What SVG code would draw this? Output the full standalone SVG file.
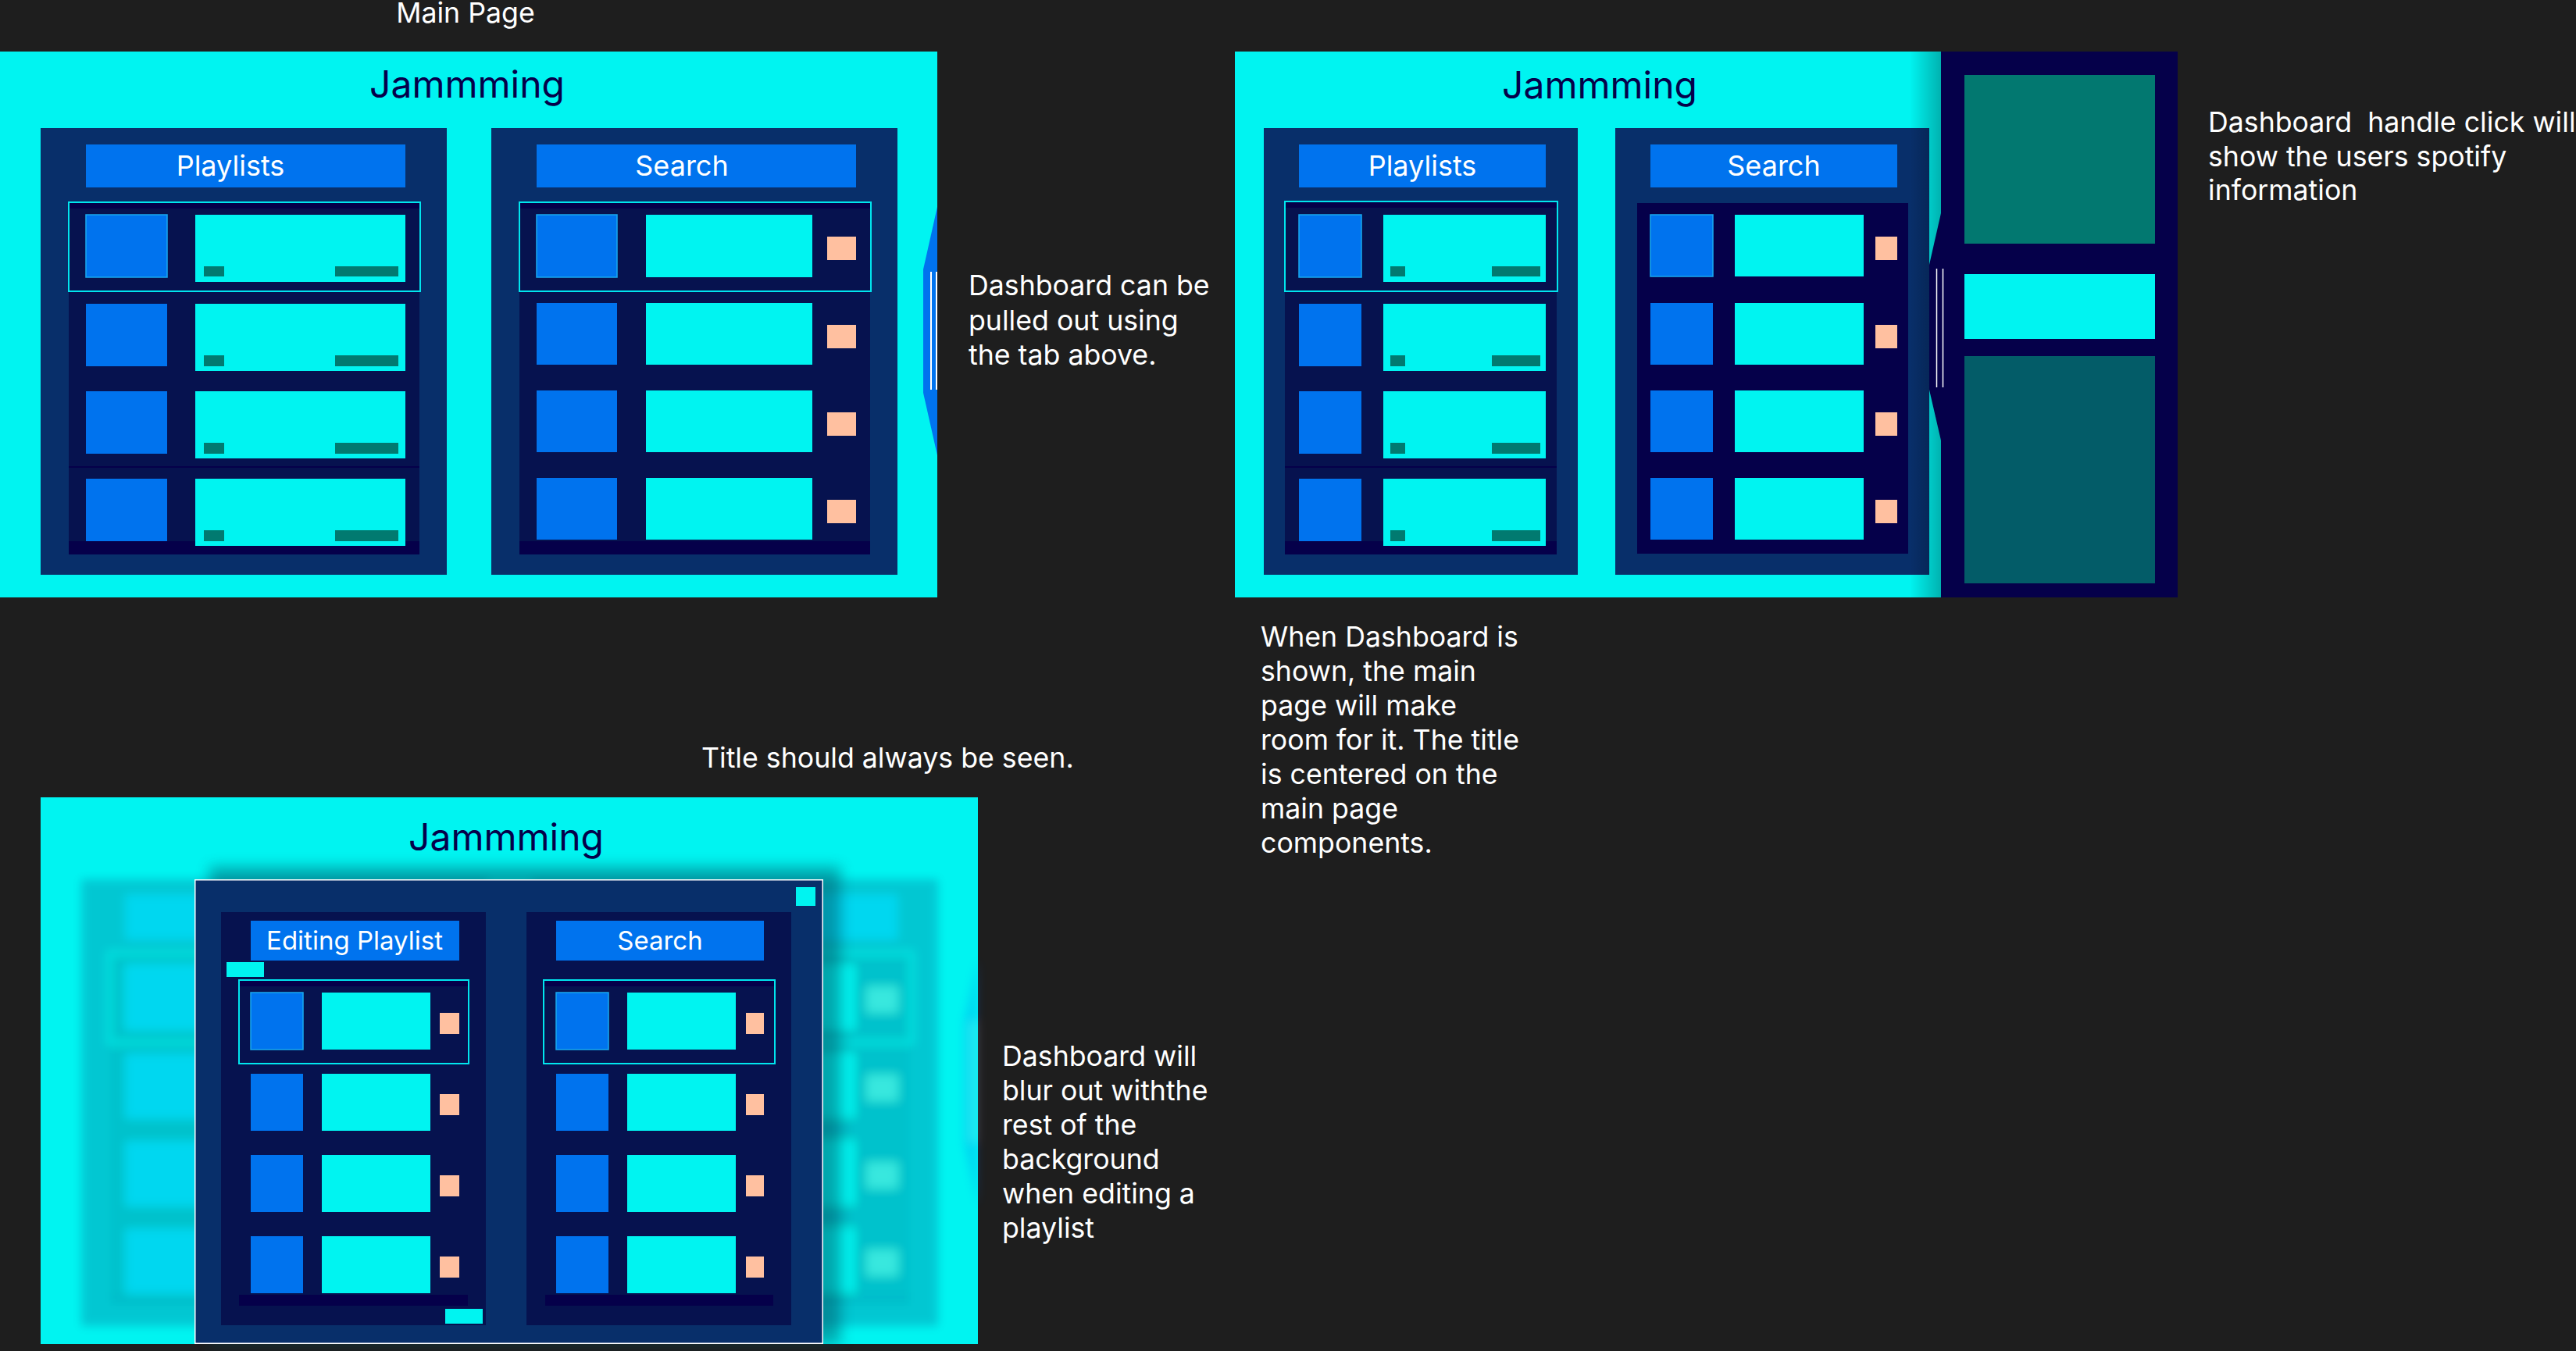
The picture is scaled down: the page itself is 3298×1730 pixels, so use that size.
<svg xmlns="http://www.w3.org/2000/svg" xmlns:xlink="http://www.w3.org/1999/xlink" width="3298" height="1730" viewBox="0 0 3298 1730">
<style>
.cy{fill:#00f4f1}
.pn{fill:#082f6a}
.hd{fill:#0073ee}
.ls{fill:#06124f}
.dk{fill:#05004a}
.bl{fill:#0073ee}
.tl{fill:#017a70}
.pc{fill:#ffc0a0}
.ol{fill:none;stroke:#00e6ee;stroke-width:2}
.sel{stroke:#18aaf0;stroke-width:1.5}
.grip{stroke:#ffffff;stroke-width:2}
text{font-family:Inter,"Noto Sans","Liberation Sans",sans-serif}
.t{font-size:35.7px;fill:#ffffff}
.ti{font-size:48px;fill:#05004a;text-anchor:middle}
.th{font-size:36px;fill:#ffffff;text-anchor:middle}
.th3{font-size:33px;fill:#ffffff;text-anchor:middle}
</style>
<defs>
<filter id="blur" x="-10%" y="-10%" width="120%" height="120%"><feGaussianBlur stdDeviation="6"/></filter>
<filter id="shblur" x="-10%" y="-10%" width="120%" height="120%"><feGaussianBlur stdDeviation="9"/></filter>
<linearGradient id="shade" x1="0" y1="0" x2="1" y2="0">
<stop offset="0" stop-color="#000" stop-opacity="0"/>
<stop offset="1" stop-color="#000" stop-opacity="0.27"/>
</linearGradient>
<g id="mainShapes">
<rect class="pn" x="52" y="164" width="520" height="572"/>
<rect class="pn" x="629" y="164" width="520" height="572"/>
<rect class="hd" x="110" y="185" width="409" height="55"/>
<rect class="hd" x="687" y="185" width="409" height="55"/>
<rect class="ls" x="88" y="259" width="449" height="451"/>
<rect class="dk" x="88" y="260" width="449" height="7"/>
<rect class="dk" x="88" y="597" width="449" height="2"/>
<rect class="dk" x="88" y="693" width="449" height="17"/>
<rect class="bl sel" x="110" y="275" width="104" height="80"/>
<rect class="cy" x="250" y="275" width="269" height="86"/>
<rect class="tl" x="261" y="341" width="26" height="13"/>
<rect class="tl" x="429" y="341" width="81" height="13"/>
<rect class="bl" x="110" y="389" width="104" height="80"/>
<rect class="cy" x="250" y="389" width="269" height="86"/>
<rect class="tl" x="261" y="455" width="26" height="14"/>
<rect class="tl" x="429" y="455" width="81" height="14"/>
<rect class="bl" x="110" y="501" width="104" height="80"/>
<rect class="cy" x="250" y="501" width="269" height="86"/>
<rect class="tl" x="261" y="567" width="26" height="14"/>
<rect class="tl" x="429" y="567" width="81" height="14"/>
<rect class="bl" x="110" y="613" width="104" height="80"/>
<rect class="cy" x="250" y="613" width="269" height="86"/>
<rect class="tl" x="261" y="679" width="26" height="14"/>
<rect class="tl" x="429" y="679" width="81" height="14"/>
<rect class="ol" x="88" y="259" width="450" height="114"/>
<rect class="ls" x="665" y="259" width="449" height="451"/>
<rect class="dk" x="665" y="260" width="449" height="7"/>
<rect class="dk" x="665" y="693" width="449" height="17"/>
<rect class="bl sel" x="687" y="275" width="103" height="80"/>
<rect class="cy" x="827" y="275" width="213" height="80"/>
<rect class="pc" x="1059" y="303" width="37" height="30"/>
<rect class="bl" x="687" y="388" width="103" height="79"/>
<rect class="cy" x="827" y="388" width="213" height="79"/>
<rect class="pc" x="1059" y="416" width="37" height="30"/>
<rect class="bl" x="687" y="500" width="103" height="79"/>
<rect class="cy" x="827" y="500" width="213" height="79"/>
<rect class="pc" x="1059" y="528" width="37" height="30"/>
<rect class="bl" x="687" y="612" width="103" height="79"/>
<rect class="cy" x="827" y="612" width="213" height="79"/>
<rect class="pc" x="1059" y="640" width="37" height="30"/>
<rect class="ol" x="665" y="259" width="450" height="114"/>
<polygon fill="#0073ee" points="1200,265 1182,345 1182,503 1200,583"/>
<line class="grip" x1="1192" y1="348" x2="1192" y2="499"/>
<line class="grip" x1="1199" y1="348" x2="1199" y2="499"/>
</g>
</defs>
<rect x="0" y="0" width="3298" height="1730" fill="#1e1e1e"/>

<g id="main-page">
<text class="t" x="596" y="29" text-anchor="middle">Main Page</text>
<rect class="cy" x="0" y="66" width="1200" height="699"/>
<text class="ti" x="598" y="125">Jammming</text>
<use xlink:href="#mainShapes" href="#mainShapes"/>
<text class="th" x="295" y="225">Playlists</text>
<text class="th" x="873" y="225">Search</text>
</g>
<g id="note-tab">
<text class="t" x="1240" y="378">Dashboard can be</text>
<text class="t" x="1240" y="423">pulled out using</text>
<text class="t" x="1240" y="467">the tab above.</text>
</g>

<g id="dashboard-page">
<rect class="cy" x="1581" y="66" width="904" height="699"/>
<text class="ti" x="2048" y="126">Jammming</text>
<rect class="pn" x="1618" y="164" width="402" height="572"/>
<rect class="pn" x="2068" y="164" width="402" height="572"/>
<rect class="hd" x="1663" y="185" width="316" height="55"/>
<rect class="hd" x="2113" y="185" width="316" height="55"/>
<text class="th" x="1821" y="225">Playlists</text>
<text class="th" x="2271" y="225">Search</text>
<rect class="ls" x="1645" y="258" width="348" height="452"/>
<rect class="dk" x="1645" y="259" width="348" height="7"/>
<rect class="dk" x="1645" y="597" width="348" height="2"/>
<rect class="dk" x="1645" y="693" width="348" height="17"/>
<rect class="bl sel" x="1663" y="275" width="80" height="80"/>
<rect class="cy" x="1771" y="275" width="208" height="86"/>
<rect class="tl" x="1780" y="341" width="19" height="13"/>
<rect class="tl" x="1910" y="341" width="62" height="13"/>
<rect class="bl" x="1663" y="389" width="80" height="80"/>
<rect class="cy" x="1771" y="389" width="208" height="86"/>
<rect class="tl" x="1780" y="455" width="19" height="14"/>
<rect class="tl" x="1910" y="455" width="62" height="14"/>
<rect class="bl" x="1663" y="501" width="80" height="80"/>
<rect class="cy" x="1771" y="501" width="208" height="86"/>
<rect class="tl" x="1780" y="567" width="19" height="14"/>
<rect class="tl" x="1910" y="567" width="62" height="14"/>
<rect class="bl" x="1663" y="613" width="80" height="80"/>
<rect class="cy" x="1771" y="613" width="208" height="86"/>
<rect class="tl" x="1780" y="679" width="19" height="14"/>
<rect class="tl" x="1910" y="679" width="62" height="14"/>
<rect class="ol" x="1645" y="258" width="349" height="115"/>
<rect class="dk" x="2096" y="260" width="347" height="449"/>
<rect class="bl sel" x="2113" y="275" width="80" height="79"/>
<rect class="cy" x="2221" y="275" width="165" height="79"/>
<rect class="pc" x="2401" y="303" width="28" height="30"/>
<rect class="bl" x="2113" y="388" width="80" height="79"/>
<rect class="cy" x="2221" y="388" width="165" height="79"/>
<rect class="pc" x="2401" y="416" width="28" height="30"/>
<rect class="bl" x="2113" y="500" width="80" height="79"/>
<rect class="cy" x="2221" y="500" width="165" height="79"/>
<rect class="pc" x="2401" y="528" width="28" height="30"/>
<rect class="bl" x="2113" y="612" width="80" height="79"/>
<rect class="cy" x="2221" y="612" width="165" height="79"/>
<rect class="pc" x="2401" y="640" width="28" height="30"/>
<rect x="2445" y="66" width="40" height="699" fill="url(#shade)"/>
</g>
<g id="dashboard-panel">
<rect class="dk" x="2485" y="66" width="303" height="699"/>
<rect x="2515" y="96" width="244" height="216" fill="#027870"/>
<rect class="cy" x="2515" y="351" width="244" height="83"/>
<rect x="2515" y="456" width="244" height="291" fill="#035c68"/>
<polygon class="dk" points="2485,273 2470,339 2470,499 2485,564"/>
<line class="grip" x1="2479.5" y1="344" x2="2479.5" y2="496" style="stroke-width:1.5"/>
<line class="grip" x1="2487.5" y1="344" x2="2487.5" y2="496" style="stroke-width:1.5"/>
</g>
<g id="note-dashboard">
<text class="t" x="2827" y="169" xml:space="preserve">Dashboard  handle click will</text>
<text class="t" x="2827" y="213">show the users spotify</text>
<text class="t" x="2827" y="256">information</text>
</g>
<g id="note-room">
<text class="t" x="1614" y="828">When Dashboard is</text>
<text class="t" x="1614" y="872">shown, the main</text>
<text class="t" x="1614" y="916">page will make</text>
<text class="t" x="1614" y="960">room for it. The title</text>
<text class="t" x="1614" y="1004">is centered on the</text>
<text class="t" x="1614" y="1048">main page</text>
<text class="t" x="1614" y="1092">components.</text>
</g>

<g id="note-title">
<text class="t" x="898" y="983">Title should always be seen.</text>
</g>
<g id="editing-page">
<rect class="cy" x="52" y="1021" width="1200" height="700"/>
<use xlink:href="#mainShapes" href="#mainShapes" transform="translate(52,962)" opacity="0.22" filter="url(#blur)"/>
<text class="ti" x="648" y="1089">Jammming</text>
<rect x="268" y="1110" width="808" height="611" fill="#004a5a" opacity="0.45" filter="url(#shblur)"/>
<rect x="249.75" y="1126.75" width="803.5" height="593.5" fill="#082f6a" stroke="#ffffff" stroke-width="1.5"/>
<rect class="cy" x="1019" y="1136" width="25" height="24"/>
<rect class="ls" x="283" y="1168" width="339" height="529"/>
<rect class="ls" x="674" y="1168" width="339" height="529"/>
<rect class="hd" x="321" y="1179" width="267" height="51"/>
<rect class="hd" x="712" y="1179" width="266" height="51"/>
<text class="th3" x="454" y="1216">Editing Playlist</text>
<text class="th3" x="845" y="1216">Search</text>
<rect class="cy" x="290" y="1232" width="48" height="19"/>
<rect class="cy" x="570" y="1676" width="48" height="19"/>
<rect class="dk" x="306" y="1256" width="294" height="7"/>
<rect class="dk" x="696" y="1256" width="296" height="7"/>
<rect class="dk" x="306" y="1658" width="293" height="14"/>
<rect class="dk" x="698" y="1658" width="292" height="14"/>
<rect class="bl sel" x="321" y="1271" width="67" height="73"/>
<rect class="cy" x="412" y="1271" width="139" height="73"/>
<rect class="pc" x="563" y="1297" width="25" height="27"/>
<rect class="bl" x="321" y="1375" width="67" height="73"/>
<rect class="cy" x="412" y="1375" width="139" height="73"/>
<rect class="pc" x="563" y="1401" width="25" height="27"/>
<rect class="bl" x="321" y="1479" width="67" height="73"/>
<rect class="cy" x="412" y="1479" width="139" height="73"/>
<rect class="pc" x="563" y="1505" width="25" height="27"/>
<rect class="bl" x="321" y="1583" width="67" height="73"/>
<rect class="cy" x="412" y="1583" width="139" height="73"/>
<rect class="pc" x="563" y="1609" width="25" height="27"/>
<rect class="ol" x="306" y="1255" width="294" height="107"/>
<rect class="bl sel" x="712" y="1271" width="67" height="73"/>
<rect class="cy" x="803" y="1271" width="139" height="73"/>
<rect class="pc" x="955" y="1297" width="23" height="27"/>
<rect class="bl" x="712" y="1375" width="67" height="73"/>
<rect class="cy" x="803" y="1375" width="139" height="73"/>
<rect class="pc" x="955" y="1401" width="23" height="27"/>
<rect class="bl" x="712" y="1479" width="67" height="73"/>
<rect class="cy" x="803" y="1479" width="139" height="73"/>
<rect class="pc" x="955" y="1505" width="23" height="27"/>
<rect class="bl" x="712" y="1583" width="67" height="73"/>
<rect class="cy" x="803" y="1583" width="139" height="73"/>
<rect class="pc" x="955" y="1609" width="23" height="27"/>
<rect class="ol" x="696" y="1255" width="296" height="107"/>
</g>
<g id="note-blur">
<text class="t" x="1283" y="1365">Dashboard will</text>
<text class="t" x="1283" y="1409">blur out withthe</text>
<text class="t" x="1283" y="1453">rest of the</text>
<text class="t" x="1283" y="1497">background</text>
<text class="t" x="1283" y="1541">when editing a</text>
<text class="t" x="1283" y="1585">playlist</text>
</g>
<g id="connectors"/>
</svg>
